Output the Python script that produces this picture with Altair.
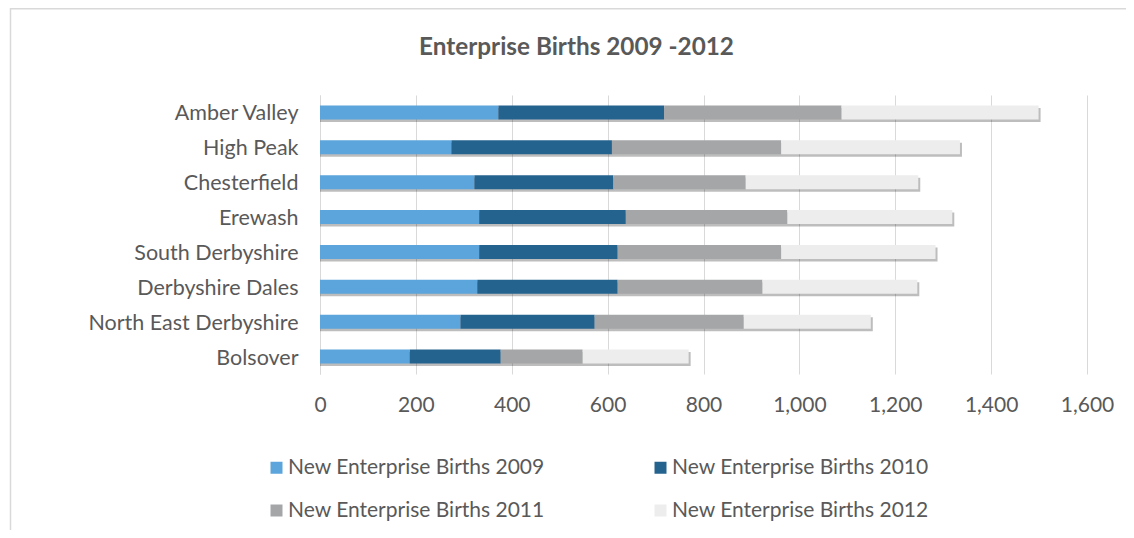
import altair as alt
import pandas as pd

categories = ["Amber Valley", "High Peak", "Chesterfield", "Erewash",
              "South Derbyshire", "Derbyshire Dales", "North East Derbyshire", "Bolsover"]
series = ["New Enterprise Births 2009", "New Enterprise Births 2010",
          "New Enterprise Births 2011", "New Enterprise Births 2012"]
b2009 = [372, 274, 322, 332, 332, 328, 293, 187]
b2010 = [346, 335, 290, 306, 289, 293, 280, 190]
b2011 = [370, 353, 276, 337, 341, 302, 311, 171]
b2012 = [411, 373, 360, 344, 322, 323, 265, 221]
colors = ["#5BA4DC", "#25638F", "#A5A6A8", "#EDEDED"]
x_ticks = [0, 200, 400, 600, 800, 1000, 1200, 1400, 1600]

rows = []
for s_i, (name, vals) in enumerate(zip(series, [b2009, b2010, b2011, b2012])):
    for c, v in zip(categories, vals):
        rows.append({"area": c, "series": name, "value": v, "order": s_i})
df = pd.DataFrame(rows)

FONT = "Lato"
TXT = "#595959"
FS = 21

y_enc = alt.Y("area:N", sort=categories, title=None,
              scale=alt.Scale(paddingInner=0.6, paddingOuter=0.3),
              axis=alt.Axis(labelFontSize=21.5, labelColor=TXT, labelFont=FONT,
                            ticks=False, domainColor="#D9D9D9", labelPadding=22,
                            labelOffset=2, grid=False, labelLimit=400))
x_enc = alt.X("sum(value):Q", title=None,
              scale=alt.Scale(domain=[0, 1600], nice=False),
              axis=alt.Axis(values=x_ticks, format=",.0f", labelFontSize=FS,
                            labelColor=TXT, labelFont=FONT, ticks=False,
                            labelFlush=False, domain=False,
                            gridColor="#D9D9D9", labelPadding=20))

shadow = alt.Chart(df).mark_bar(size=14, color="#000000", opacity=0.26,
                                yOffset=2.5, xOffset=2).encode(
    y=alt.Y("area:N", sort=categories),
    x=alt.X("sum(value):Q"),
)

bars = alt.Chart(df).mark_bar(size=14).encode(
    y=y_enc,
    x=x_enc,
    color=alt.Color("series:N", sort=series,
                    scale=alt.Scale(domain=series, range=colors),
                    legend=alt.Legend(title=None, orient="none", legendX=-54,
                                      legendY=362, columns=2, columnPadding=105,
                                      rowPadding=21, direction="horizontal",
                                      symbolType="square",
                                      symbolSize=144, symbolStrokeWidth=0,
                                      labelFontSize=FS, labelColor=TXT,
                                      labelFont=FONT, labelOffset=1,
                                      labelLimit=400, padding=0)),
    order=alt.Order("order:Q", sort="ascending"),
)

frame = alt.Chart(pd.DataFrame({"a": [0]})).mark_rect(
    fill=None, stroke="#D9D9D9", strokeWidth=1.5).encode(
    x=alt.value(-309.5), x2=alt.value(900), y=alt.value(-86.2), y2=alt.value(600))

chart = alt.layer(frame, shadow, bars).properties(
    width=767, height=279,
    title=alt.TitleParams("Enterprise Births 2009 -2012", font=FONT, fontSize=24.3,
                          fontWeight="bold", color=TXT, anchor="middle",
                          frame="group", dx=-127, offset=-52),
    autosize=alt.AutoSizeParams(type="none"),
    padding={"left": 312, "top": 87, "right": 39, "bottom": 156},
).configure_view(stroke=None)

chart.save("out.html", embed_options={"renderer": "svg", "actions": False})
